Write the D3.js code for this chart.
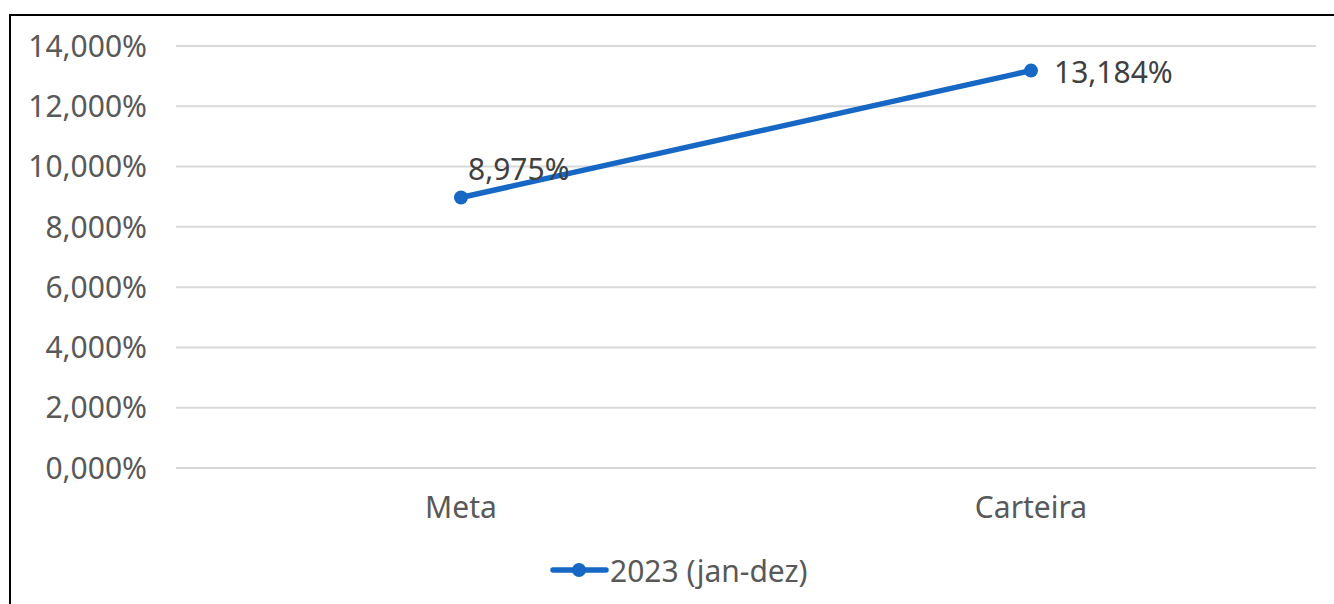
<!DOCTYPE html>
<html>
<head>
<meta charset="utf-8">
<script src="https://cdn.jsdelivr.net/npm/d3@7"></script>
<style>
  html, body { margin: 0; padding: 0; background: #fff; }
  svg { display: block; }
  text { font-family: "Noto Sans", "Open Sans", sans-serif; }
</style>
</head>
<body>
<svg id="chart" width="1334" height="604"></svg>
<script>
// Return comparison, 2023 (jan-dez)
const categories = ["Meta", "Carteira"];
const values = [8.975, 13.184];
const valueLabels = ["8,975%", "13,184%"];
const yTicks = [0, 2, 4, 6, 8, 10, 12, 14];
const seriesName = "2023 (jan-dez)";

const W = 1334, H = 604;
const plot = { left: 176, right: 1316, top: 46, bottom: 468 };
const lineColor = "#1668C4";
const fontSize = "30px";

const svg = d3.select("#chart");

// outer frame (left and top edges)
svg.append("line").attr("x1", 10).attr("x2", 10).attr("y1", 14).attr("y2", H)
  .attr("stroke", "#000").attr("stroke-width", 2);
svg.append("line").attr("x1", 9).attr("x2", W).attr("y1", 15).attr("y2", 15)
  .attr("stroke", "#000").attr("stroke-width", 2);

const x = d3.scaleBand().domain(categories).range([plot.left, plot.right]);
const y = d3.scaleLinear().domain([0, 14]).range([plot.bottom, plot.top]);

const fmt = v => d3.format(".3f")(v).replace(".", ",") + "%";

// gridlines
svg.append("g").selectAll("line").data(yTicks).join("line")
  .attr("x1", plot.left).attr("x2", plot.right)
  .attr("y1", d => y(d)).attr("y2", d => y(d))
  .attr("stroke", "#d9d9d9").attr("stroke-width", 2);

// y axis labels
const yAxis = d3.axisLeft(y).tickValues(yTicks).tickFormat(fmt).tickSize(0).tickPadding(0);
const gy = svg.append("g").attr("transform", `translate(147,0)`).call(yAxis);
gy.select(".domain").remove();
gy.selectAll("text").attr("fill", "#595959").attr("dy", "0.34em").style("font-size", fontSize)
  .style("font-family", "'Noto Sans', sans-serif");

// x axis labels
const xAxis = d3.axisBottom(x).tickSize(0).tickPadding(0);
const gx = svg.append("g").attr("transform", `translate(0,${plot.bottom + 29})`).call(xAxis);
gx.select(".domain").remove();
gx.selectAll("text").attr("fill", "#595959").style("font-size", fontSize)
  .style("font-family", "'Noto Sans', sans-serif");

const cx = (d, i) => x(categories[i]) + x.bandwidth() / 2;

// series line
const line = d3.line().x((d, i) => cx(d, i)).y(d => y(d));
svg.append("path").datum(values).attr("d", line)
  .attr("fill", "none").attr("stroke", lineColor).attr("stroke-width", 5.5)
  .attr("stroke-linecap", "round");

svg.append("g").selectAll("circle").data(values).join("circle")
  .attr("cx", cx).attr("cy", d => y(d)).attr("r", 7).attr("fill", lineColor);

// data labels
const labelPos = [
  { dx: 7, dy: -29 },
  { dx: 23, dy: 1 }
];
svg.append("g").selectAll("text").data(values).join("text")
  .attr("x", (d, i) => cx(d, i) + labelPos[i].dx)
  .attr("y", (d, i) => y(d) + labelPos[i].dy)
  .attr("dominant-baseline", "central")
  .attr("text-anchor", "start")
  .attr("fill", "#404040").style("font-size", fontSize)
  .text((d, i) => valueLabels[i]);

// legend
const lg = svg.append("g").attr("transform", "translate(553,570)");
lg.append("line").attr("x1", 0).attr("x2", 53).attr("y1", 0).attr("y2", 0)
  .attr("stroke", lineColor).attr("stroke-width", 5.5).attr("stroke-linecap", "round");
lg.append("circle").attr("cx", 26).attr("cy", 0).attr("r", 7).attr("fill", lineColor);
lg.append("text").attr("x", 57).attr("y", 0).attr("dominant-baseline", "central")
  .attr("fill", "#595959").style("font-size", fontSize).text(seriesName);
</script>
</body>
</html>
